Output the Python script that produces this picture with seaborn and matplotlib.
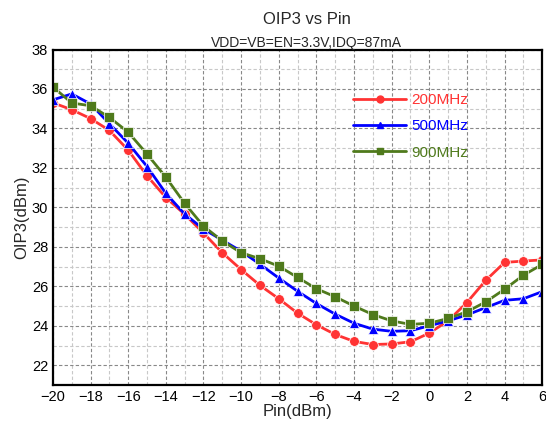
import matplotlib
matplotlib.use("Agg")
import matplotlib.pyplot as plt
from matplotlib.ticker import MultipleLocator
import seaborn as sns
import pandas as pd

pin = list(range(-20, 7))
oip3_200 = [35.3, 34.95, 34.5, 33.9, 32.9, 31.6, 30.5, 29.65, 28.7, 27.7, 26.85, 26.05,
            25.37, 24.64, 24.05, 23.56, 23.21, 23.05, 23.08, 23.19, 23.63, 24.25, 25.18,
            26.3, 27.21, 27.28, 27.34]
oip3_500 = [35.45, 35.75, 35.24, 34.24, 33.25, 32.07, 30.71, 29.66, 28.9, 28.34, 27.78,
            27.12, 26.42, 25.75, 25.13, 24.59, 24.13, 23.83, 23.72, 23.75, 24.0, 24.25,
            24.55, 24.92, 25.29, 25.37, 25.73]
oip3_900 = [36.1, 35.29, 35.15, 34.56, 33.81, 32.7, 31.53, 30.2, 29.05, 28.3, 27.7, 27.4,
            27.02, 26.45, 25.88, 25.47, 25.0, 24.57, 24.25, 24.07, 24.13, 24.37, 24.71,
            25.21, 25.85, 26.56, 27.11]
labels = ["200MHz", "500MHz", "900MHz"]
colors = {"200MHz": "#ff3333", "500MHz": "#0000ff", "900MHz": "#4f7a1c"}
markers = {"200MHz": "o", "500MHz": "^", "900MHz": "s"}

df = pd.concat([
    pd.DataFrame({"Pin": pin, "OIP3": vals, "Freq": lab})
    for vals, lab in zip([oip3_200, oip3_500, oip3_900], labels)
])

sns.set_style("white")
plt.rcParams["font.family"] = ["Liberation Sans", "DejaVu Sans"]

fig = plt.figure(figsize=(5.46, 4.28), dpi=100)
ax = fig.add_axes([0.097, 0.1005, 0.896, 0.7838])

sns.lineplot(data=df, x="Pin", y="OIP3", hue="Freq", style="Freq", palette=colors,
             markers=markers, dashes=False, linewidth=2, markersize=7,
             markeredgewidth=0.5, ax=ax, legend=False)

ax.set_xlim(-20, 6)
ax.set_ylim(21, 38)
ax.xaxis.set_major_locator(MultipleLocator(2))
ax.xaxis.set_minor_locator(MultipleLocator(1))
ax.yaxis.set_minor_locator(MultipleLocator(1))
ax.set_yticks(range(22, 39, 2))
ax.grid(which="major", color="#888888", linestyle=(0, (3, 2)), linewidth=0.8)
ax.grid(which="minor", color="#c8c8c8", linestyle=(0, (3, 2)), linewidth=0.8)
ax.tick_params(which="both", direction="in", top=False, right=False, labelsize=10.5,
               width=1.5, colors="black")
ax.tick_params(which="major", length=6)
ax.tick_params(which="minor", length=3.5)
for s in ax.spines.values():
    s.set_linewidth(1.6)
    s.set_color("black")

ax.set_xlabel("Pin(dBm)", fontsize=12, labelpad=0)
ax.set_ylabel("OIP3(dBm)", fontsize=12, labelpad=2)
fig.text(0.562, 0.955, "OIP3 vs Pin", ha="center", va="center", fontsize=12)
fig.text(0.562, 0.900, "VDD=VB=EN=3.3V,IDQ=87mA", ha="center", va="center", fontsize=10)

handles = [plt.Line2D([], [], color=colors[l], marker=markers[l], linewidth=2,
                      markersize=5) for l in labels]
leg = ax.legend(handles, labels, loc="upper left", bbox_to_anchor=(0.585, 0.911),
                frameon=False, fontsize=11, handlelength=3.5, labelspacing=0.8,
                handletextpad=0.35)
for txt, l in zip(leg.get_texts(), labels):
    txt.set_color(colors[l])

fig.savefig("out.png", dpi=100)
